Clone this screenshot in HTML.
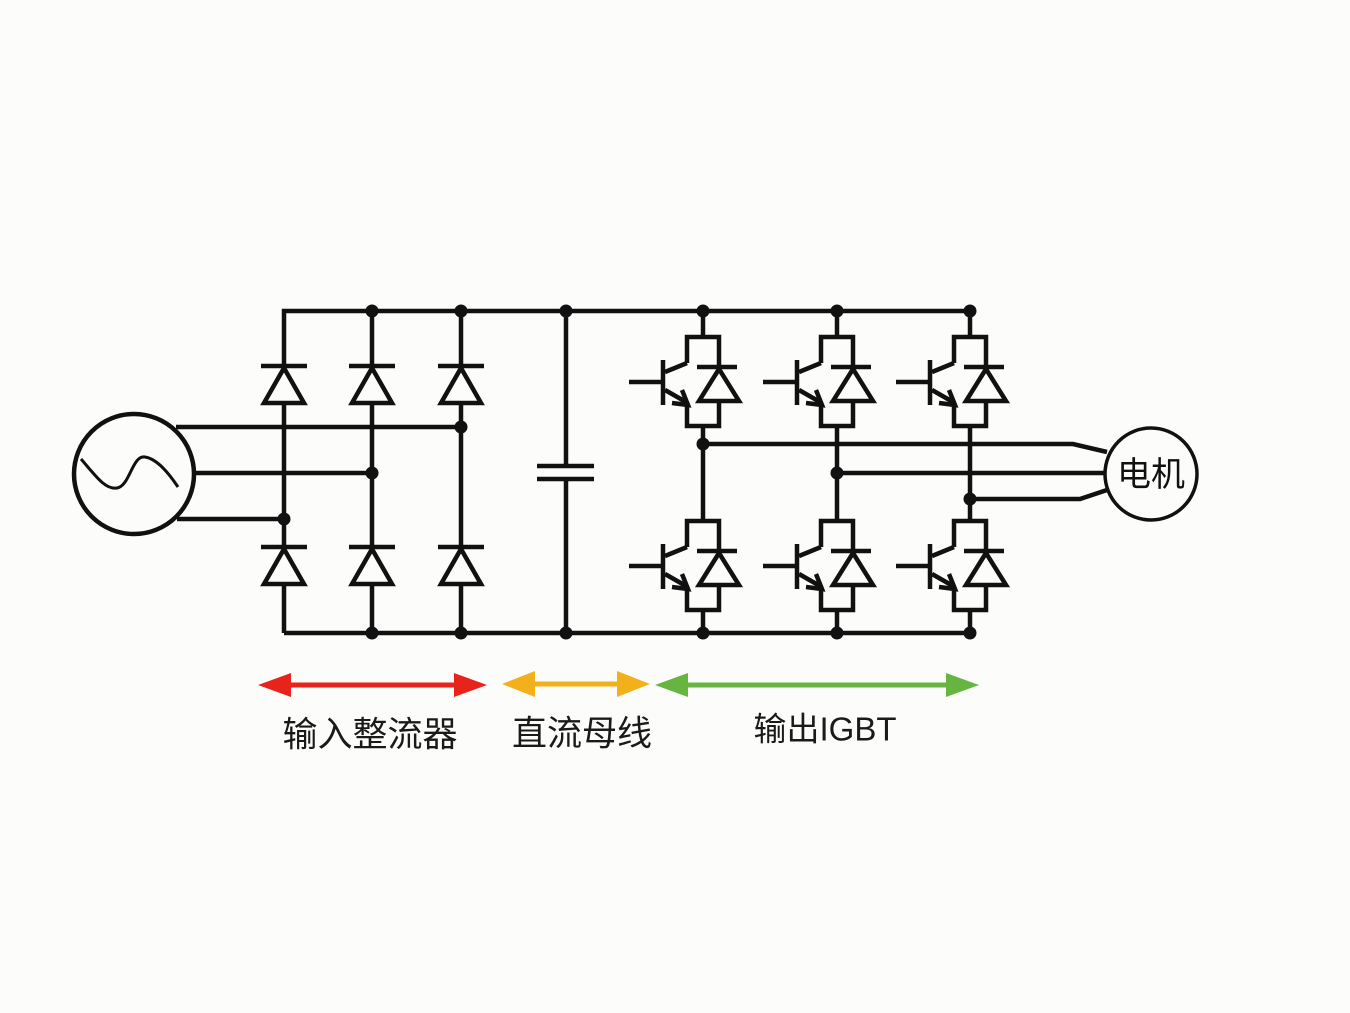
<!DOCTYPE html>
<html>
<head>
<meta charset="utf-8">
<style>
html,body{margin:0;padding:0;background:#fcfcfa;}
svg{display:block;}
</style>
</head>
<body>
<svg width="1350" height="1013" viewBox="0 0 1350 1013" xmlns="http://www.w3.org/2000/svg">
<rect width="1350" height="1013" fill="#fcfcfa"/>
<g stroke="#111" stroke-width="4.5" fill="none" stroke-linejoin="miter">
  <!-- AC source -->
  <circle cx="134" cy="474" r="60"/>
  <path d="M81 459 C95 475,105 490,117 488 C130 486,132 455,145 457 C158 459,170 475,178 487" stroke-width="3"/>
  <path d="M176 427 H461"/>
  <path d="M194 473 H372"/>
  <path d="M177 519 H284"/>

  <!-- buses -->
  <path d="M284 633 V311 H975"/>
  <path d="M284 633 H975"/>

  <!-- rectifier columns -->
  <path d="M372 311 V633"/>
  <path d="M461 311 V633"/>

  <!-- capacitor -->
  <path d="M566 311 V466"/>
  <path d="M566 479 V633"/>
  <path d="M537 466 H594"/>
  <path d="M537 479 H594"/>

  <!-- IGBT columns wires -->
  <path d="M703 311 V337 M703 426 V521 M703 610 V633"/>
  <path d="M837 311 V337 M837 426 V521 M837 610 V633"/>
  <path d="M970 311 V337 M970 426 V521 M970 610 V633"/>

  <!-- motor lines -->
  <path d="M703 444 H1073 L1107 452"/>
  <path d="M837 473 H1105"/>
  <path d="M970 499 H1080 L1107 490"/>
  <circle cx="1151" cy="474" r="46" stroke-width="3.5"/>
</g>

<!-- rectifier diodes -->
<g stroke="#111" stroke-width="4.5" fill="#fcfcfa" stroke-linejoin="miter">
  <path d="M261 366 H307"/><polygon points="284,368 264,403 304,403"/>
  <path d="M349 366 H395"/><polygon points="372,368 352,403 392,403"/>
  <path d="M438 366 H484"/><polygon points="461,368 441,403 481,403"/>
  <path d="M261 547 H307"/><polygon points="284,549 264,584 304,584"/>
  <path d="M349 547 H395"/><polygon points="372,549 352,584 392,584"/>
  <path d="M438 547 H484"/><polygon points="461,549 441,584 481,584"/>
</g>

<!-- IGBTs -->
<g stroke="#111" stroke-width="4.5" fill="none" stroke-linejoin="miter">
  <g transform="translate(703,337)">
    <path d="M-16 26 V0 H16 V89 H-16 V66"/>
    <path d="M-16 26 L-38 35"/>
    <path d="M-40 23 V68"/>
    <path d="M-74 45 H-40"/>
    <path d="M-38 53 L-17 65"/>
    <path d="M-31 66 L-15 68 L-21 53"/>
    <path d="M-6 30 H34"/>
    <polygon points="16,32 -4,64 36,64" fill="#fcfcfa"/>
  </g>
  <g transform="translate(837,337)">
    <path d="M-16 26 V0 H16 V89 H-16 V66"/>
    <path d="M-16 26 L-38 35"/>
    <path d="M-40 23 V68"/>
    <path d="M-74 45 H-40"/>
    <path d="M-38 53 L-17 65"/>
    <path d="M-31 66 L-15 68 L-21 53"/>
    <path d="M-6 30 H34"/>
    <polygon points="16,32 -4,64 36,64" fill="#fcfcfa"/>
  </g>
  <g transform="translate(970,337)">
    <path d="M-16 26 V0 H16 V89 H-16 V66"/>
    <path d="M-16 26 L-38 35"/>
    <path d="M-40 23 V68"/>
    <path d="M-74 45 H-40"/>
    <path d="M-38 53 L-17 65"/>
    <path d="M-31 66 L-15 68 L-21 53"/>
    <path d="M-6 30 H34"/>
    <polygon points="16,32 -4,64 36,64" fill="#fcfcfa"/>
  </g>
  <g transform="translate(703,521)">
    <path d="M-16 26 V0 H16 V89 H-16 V66"/>
    <path d="M-16 26 L-38 35"/>
    <path d="M-40 23 V68"/>
    <path d="M-74 45 H-40"/>
    <path d="M-38 53 L-17 65"/>
    <path d="M-31 66 L-15 68 L-21 53"/>
    <path d="M-6 30 H34"/>
    <polygon points="16,32 -4,64 36,64" fill="#fcfcfa"/>
  </g>
  <g transform="translate(837,521)">
    <path d="M-16 26 V0 H16 V89 H-16 V66"/>
    <path d="M-16 26 L-38 35"/>
    <path d="M-40 23 V68"/>
    <path d="M-74 45 H-40"/>
    <path d="M-38 53 L-17 65"/>
    <path d="M-31 66 L-15 68 L-21 53"/>
    <path d="M-6 30 H34"/>
    <polygon points="16,32 -4,64 36,64" fill="#fcfcfa"/>
  </g>
  <g transform="translate(970,521)">
    <path d="M-16 26 V0 H16 V89 H-16 V66"/>
    <path d="M-16 26 L-38 35"/>
    <path d="M-40 23 V68"/>
    <path d="M-74 45 H-40"/>
    <path d="M-38 53 L-17 65"/>
    <path d="M-31 66 L-15 68 L-21 53"/>
    <path d="M-6 30 H34"/>
    <polygon points="16,32 -4,64 36,64" fill="#fcfcfa"/>
  </g>
</g>

<!-- junction dots -->
<g fill="#111">
  <circle cx="372" cy="311" r="6.5"/>
  <circle cx="461" cy="311" r="6.5"/>
  <circle cx="566" cy="311" r="6.5"/>
  <circle cx="703" cy="311" r="6.5"/>
  <circle cx="837" cy="311" r="6.5"/>
  <circle cx="970" cy="311" r="6.5"/>
  <circle cx="372" cy="633" r="6.5"/>
  <circle cx="461" cy="633" r="6.5"/>
  <circle cx="566" cy="633" r="6.5"/>
  <circle cx="703" cy="633" r="6.5"/>
  <circle cx="837" cy="633" r="6.5"/>
  <circle cx="970" cy="633" r="6.5"/>
  <circle cx="461" cy="427" r="6.5"/>
  <circle cx="372" cy="473" r="6.5"/>
  <circle cx="284" cy="519" r="6.5"/>
  <circle cx="703" cy="444" r="6.5"/>
  <circle cx="837" cy="473" r="6.5"/>
  <circle cx="970" cy="499" r="6.5"/>
</g>

<text x="1151" y="475" font-family="'Liberation Sans','Noto Sans CJK SC',sans-serif" font-size="34" fill="#111" text-anchor="middle" dominant-baseline="central">电机</text>

<!-- range arrows -->
<g>
  <path d="M285 685 H460" stroke="#e8231b" stroke-width="5"/>
  <polygon points="258,685 291,673 291,697" fill="#e8231b"/>
  <polygon points="487,685 454,673 454,697" fill="#e8231b"/>

  <path d="M528 684 H624" stroke="#f2b01a" stroke-width="5"/>
  <polygon points="502,684 535,671 535,697" fill="#f2b01a"/>
  <polygon points="650,684 617,671 617,697" fill="#f2b01a"/>

  <path d="M682 685 H953" stroke="#66b540" stroke-width="5"/>
  <polygon points="655,685 688,673 688,697" fill="#66b540"/>
  <polygon points="979,685 946,673 946,697" fill="#66b540"/>
</g>

<g font-family="'Liberation Sans','Noto Sans CJK SC',sans-serif" fill="#1a1a1a" text-anchor="middle" dominant-baseline="central">
  <text x="370" y="735" font-size="35">输入整流器</text>
  <text x="582" y="734" font-size="35">直流母线</text>
  <text x="825" y="729" font-size="33">输出IGBT</text>
</g>
</svg>
</body>
</html>
